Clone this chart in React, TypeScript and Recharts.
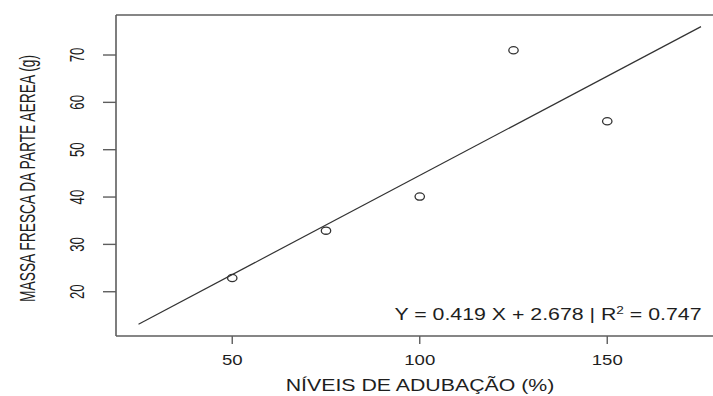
import React from "react";
import {
  ComposedChart,
  Scatter,
  XAxis,
  YAxis,
  ReferenceLine,
} from "recharts";

const doses = [50, 75, 100, 125, 150];
const massa = [22.9, 32.9, 40.1, 71.0, 56.0];

// fitted line endpoints, Y = 0.419 X + 2.678
const fitX = [25, 175];
const fitY = [13.15, 76.0];

const xTicks = [50, 100, 150];
const yTicks = [20, 30, 40, 50, 60, 70];

const xTitle = "NÍVEIS DE ADUBAÇÃO (%)";
const yTitle = "MASSA FRESCA DA PARTE AEREA (g)";

const points = doses.map((x, i) => ({ x, y: massa[i] }));
const fit = fitX.map((x, i) => ({ x, y: fitY[i] }));

const W = 713;
const H = 396;
const SX = 1.3; // the source picture is stretched sideways
const AXIS = "#5e5e5e";
const INK = "#1e1e1e";
const SANS = "'Liberation Sans', Arial, sans-serif";

const XTick = ({ x, payload }: any) => (
  <text
    transform={`translate(${x},365) scale(${SX},1)`}
    textAnchor="middle"
    fontFamily={SANS}
    fontSize={14.3}
    fill={INK}
  >
    {payload.value}
  </text>
);

// narrow, rotated labels like R's las=0
const YTick = ({ y, payload }: any) => (
  <text
    transform={`translate(84,${y}) scale(${SX},1) rotate(-90)`}
    textAnchor="middle"
    fontFamily={SANS}
    fontSize={15}
    textLength={14.7}
    lengthAdjust="spacingAndGlyphs"
    fill={INK}
  >
    {payload.value}
  </text>
);

const Ring = ({ cx, cy }: any) => (
  <ellipse cx={cx} cy={cy} rx={4.7} ry={3.6} fill="none" stroke="#333" strokeWidth={1.3} />
);

const NoDot = () => <g />;

export default function App() {
  return (
    <div style={{ position: "absolute", left: 0, top: 0, width: W, height: H, background: "#fff" }}>
      <ComposedChart
        width={W}
        height={H}
        margin={{ top: 15, right: 0, left: 56, bottom: 30 }}
      >
        <XAxis
          type="number"
          dataKey="x"
          domain={[19, 178.2]}
          ticks={xTicks}
          allowDataOverflow
          height={30}
          tickSize={8}
          axisLine={{ stroke: AXIS, strokeWidth: 1.6 }}
          tickLine={{ stroke: AXIS, strokeWidth: 1.4 }}
          tick={<XTick />}
        />
        <YAxis
          type="number"
          dataKey="y"
          domain={[10.65, 78.45]}
          ticks={yTicks}
          allowDataOverflow
          width={60}
          tickSize={13}
          axisLine={{ stroke: AXIS, strokeWidth: 1.6 }}
          tickLine={{ stroke: AXIS, strokeWidth: 1.4 }}
          tick={<YTick />}
        />
        <ReferenceLine y={78.45} stroke={AXIS} strokeWidth={1.6} />
        <Scatter
          data={fit}
          dataKey="y"
          line={{ stroke: "#333", strokeWidth: 1.2 }}
          shape={<NoDot />}
          isAnimationActive={false}
        />
        <Scatter data={points} dataKey="y" shape={<Ring />} isAnimationActive={false} />
      </ComposedChart>
      <svg
        width={W}
        height={H}
        style={{ position: "absolute", left: 0, top: 0, pointerEvents: "none" }}
      >
        <text
          transform={`translate(420,391) scale(${SX},1)`}
          textAnchor="middle"
          fontFamily={SANS}
          fontSize={16.4}
          fill={INK}
        >
          {xTitle}
        </text>
        <text
          transform={`translate(35,178.5) scale(${SX},1) rotate(-90)`}
          textAnchor="middle"
          fontFamily={SANS}
          fontSize={16.5}
          textLength={247}
          lengthAdjust="spacingAndGlyphs"
          fill={INK}
        >
          {yTitle}
        </text>
        <text
          transform={`translate(548,320) scale(${SX},1)`}
          textAnchor="middle"
          fontFamily={SANS}
          fontSize={16.4}
          fill={INK}
        >
          Y = 0.419 X + 2.678 | R
          <tspan fontSize={10.5} dy={-6}>2</tspan>
          <tspan dy={6}> = 0.747</tspan>
        </text>
      </svg>
    </div>
  );
}
